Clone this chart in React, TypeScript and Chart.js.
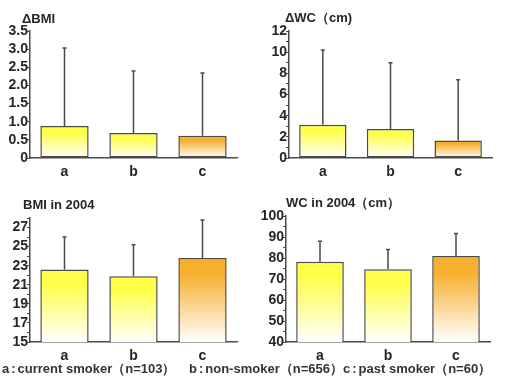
import React, { useEffect, useRef } from "react";
import { Chart, registerables } from "chart.js";
Chart.register(...registerables);

const categories = ["a", "b", "c"];
const topColors = ["#ffff4a", "#ffff4a", "#f7b02e"];

const dBmiMeans = [0.88, 0.69, 0.61];
const dBmiUpper = [3.03, 2.4, 2.34];
const dWcMeans = [3.15, 2.75, 1.65];
const dWcUpper = [10.2, 9.0, 7.4];
const bmiMeans = [22.6, 21.9, 23.8];
const bmiUpper = [26.0, 25.2, 27.8];
const wcMeans = [78.2, 74.6, 81.0];
const wcUpper = [88.0, 84.0, 91.7];

const legendKeys = ["a", "b", "c"];
const legendItems = ["current smoker（n=103）", "non-smoker（n=656）", "past smoker（n=60）"];

const FONT = "'Liberation Sans', Arial, sans-serif";
const INK = "#262626";
const LINE = "#4a4a4a";

type PanelProps = {
  canvasLeft: number;
  canvasTop: number;
  canvasW: number;
  canvasH: number;
  area: { l: number; t: number; r: number; b: number };
  means: number[];
  upper: number[];
  min: number;
  max: number;
  step: number;
  labelStep: number;
  decimals: number;
};

function Panel(p: PanelProps) {
  const ref = useRef<HTMLCanvasElement | null>(null);
  useEffect(() => {
    if (!ref.current) return;
    const Y_W = 30;
    const X_H = 20;
    const errorPlugin = {
      id: "errorBars",
      afterDatasetsDraw(chart: any) {
        const meta = chart.getDatasetMeta(0);
        const ys = chart.scales.y;
        const c = chart.ctx;
        c.save();
        c.strokeStyle = LINE;
        c.lineWidth = 1.5;
        meta.data.forEach((bar: any, i: number) => {
          const yTop = ys.getPixelForValue(p.upper[i]);
          c.beginPath();
          c.moveTo(bar.x, bar.y);
          c.lineTo(bar.x, yTop);
          c.moveTo(bar.x - 2, yTop);
          c.lineTo(bar.x + 2, yTop);
          c.stroke();
        });
        c.restore();
      },
    };
    const chart = new Chart(ref.current, {
      type: "bar",
      data: {
        labels: categories,
        datasets: [
          {
            data: p.means,
            backgroundColor: (ctx: any) => {
              const chart = ctx.chart;
              const ca = chart.chartArea;
              const i = ctx.dataIndex ?? 0;
              if (!ca || ctx.type !== "data") return topColors[i];
              const y = chart.scales.y.getPixelForValue(ctx.raw);
              const g = chart.ctx.createLinearGradient(0, y, 0, ca.bottom);
              g.addColorStop(0, topColors[i]);
              g.addColorStop(0.2, topColors[i]);
              g.addColorStop(1, "#ffffff");
              return g;
            },
            borderColor: LINE,
            borderWidth: 1.5,
            borderSkipped: false,
            barPercentage: 0.7,
            categoryPercentage: 1,
          },
        ],
      },
      options: {
        animation: false,
        responsive: false,
        maintainAspectRatio: false,
        layout: {
          padding: {
            left: p.area.l - p.canvasLeft - Y_W,
            top: p.area.t - p.canvasTop,
            right: p.canvasLeft + p.canvasW - p.area.r,
            bottom: p.canvasTop + p.canvasH - p.area.b - X_H,
          },
        },
        plugins: { legend: { display: false }, tooltip: { enabled: false } },
        scales: {
          x: {
            offset: true,
            grid: { display: false, drawTicks: false },
            border: { display: true, color: LINE, width: 1.5 },
            ticks: { color: INK, font: { family: FONT, size: 14, weight: "bold" }, padding: 6 },
            afterFit: (axis: any) => {
              axis.height = X_H;
            },
          },
          y: {
            min: p.min,
            max: p.max,
            grid: { display: true, drawOnChartArea: false, drawTicks: true, tickLength: 3, color: LINE, lineWidth: 1 },
            border: { display: true, color: LINE, width: 1.5 },
            ticks: {
              stepSize: p.step,
              autoSkip: false,
              color: INK,
              padding: -1,
              font: { family: FONT, size: 14, weight: "bold" },
              callback: (v: any) => {
                const n = Number(v);
                const k = Math.round(((n - p.min) / p.labelStep) * 1000) / 1000;
                if (Math.abs(k - Math.round(k)) > 1e-6) return "";
                if (n === 0) return "0";
                return n.toFixed(p.decimals);
              },
            },
            afterFit: (axis: any) => {
              axis.width = Y_W;
            },
          },
        },
      } as any,
      plugins: [errorPlugin],
    });
    return () => chart.destroy();
  }, []);
  return (
    <canvas
      ref={ref}
      width={p.canvasW}
      height={p.canvasH}
      style={{ position: "absolute", left: p.canvasLeft, top: p.canvasTop, width: p.canvasW, height: p.canvasH }}
    />
  );
}

const titleStyle: React.CSSProperties = {
  position: "absolute",
  fontFamily: FONT,
  fontWeight: "bold",
  fontSize: 13,
  color: INK,
  whiteSpace: "nowrap",
  lineHeight: "14px",
};

const legendLefts = [2, 189, 343];

export default function App() {
  return (
    <div style={{ position: "absolute", left: 0, top: 0, width: 508, height: 380, background: "#fff", overflow: "hidden" }}>
      <Panel canvasLeft={0} canvasTop={0} canvasW={254} canvasH={190} area={{ l: 30, t: 31, r: 237, b: 158 }}
        means={dBmiMeans} upper={dBmiUpper} min={0} max={3.5} step={0.5} labelStep={0.5} decimals={1} />
      <Panel canvasLeft={254} canvasTop={0} canvasW={254} canvasH={190} area={{ l: 289, t: 31, r: 492, b: 158 }}
        means={dWcMeans} upper={dWcUpper} min={0} max={12} step={1} labelStep={2} decimals={0} />
      <Panel canvasLeft={0} canvasTop={190} canvasW={254} canvasH={175} area={{ l: 30, t: 218, r: 237, b: 342 }}
        means={bmiMeans} upper={bmiUpper} min={15} max={28} step={1} labelStep={2} decimals={0} />
      <Panel canvasLeft={254} canvasTop={190} canvasW={254} canvasH={175} area={{ l: 286, t: 216, r: 490, b: 342 }}
        means={wcMeans} upper={wcUpper} min={40} max={100} step={5} labelStep={10} decimals={0} />
      <div style={{ ...titleStyle, left: 22, top: 12 }}>ΔBMI</div>
      <div style={{ ...titleStyle, left: 285, top: 11 }}>ΔWC（cm)</div>
      <div style={{ ...titleStyle, left: 23, top: 198 }}>BMI in 2004</div>
      <div style={{ ...titleStyle, left: 286, top: 196 }}>WC in 2004（cm）</div>
      <div style={{ position: "absolute", left: 0, top: 361, width: 508, height: 16, fontFamily: FONT, fontSize: 13, lineHeight: "16px", fontWeight: "bold", color: "#333", whiteSpace: "nowrap" }}>
        {legendItems.map((t, i) => (
          <span key={i} style={{ position: "absolute", left: legendLefts[i] }}>
            {legendKeys[i]}<span style={{ margin: "0 2px" }}>:</span>{t}
          </span>
        ))}
      </div>
    </div>
  );
}
